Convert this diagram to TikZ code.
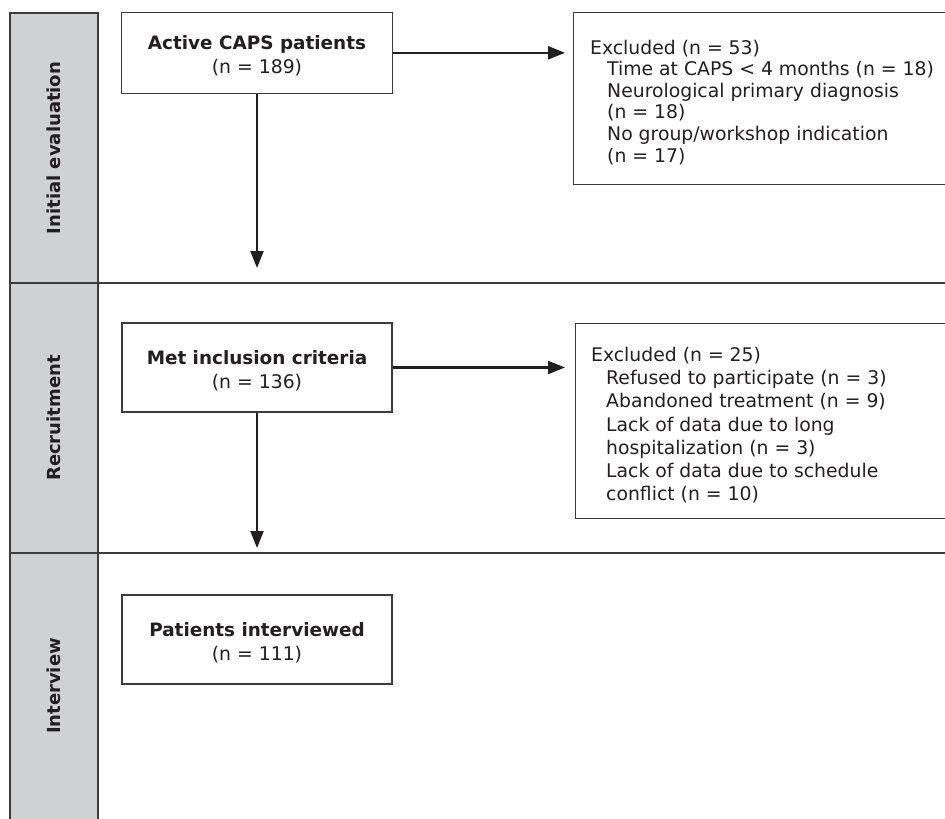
\documentclass[tikz,border=0pt]{standalone}
\usepackage{fontspec}
\setmainfont{DejaVu Sans}
\usetikzlibrary{arrows.meta,calc}
\definecolor{lanegray}{RGB}{208,209,211}
\definecolor{rulegray}{RGB}{60,60,60}
\definecolor{inkdark}{RGB}{35,31,32}

\begin{document}
\begin{tikzpicture}[x=1pt,y=-1pt,
    box/.style={draw=rulegray, line width=1.1pt, fill=white, align=center, inner sep=0pt, text=inkdark, font=\fontsize{18.8}{24}\selectfont},
    exclframe/.style={draw=rulegray, line width=1.1pt, anchor=north west, minimum width=420pt, inner sep=0pt},
    excltext/.style={anchor=base west, align=left, inner sep=0pt, text=inkdark},
    lane/.style={rotate=90, inner sep=0pt, text=inkdark, font=\bfseries\fontsize{18}{22}\selectfont},
    flow/.style={draw=inkdark, line width=2.2pt, -{Triangle[length=17pt,width=13pt]}}]
    \useasboundingbox (0,0) rectangle (945,819);
    \draw [draw=rulegray, line width=1.1pt, fill=lanegray] (10,13) rectangle (98,830);
    \draw [draw=rulegray, line width=1.1pt] (10,283) -- (960,283);
    \draw [draw=rulegray, line width=1.1pt] (10,553) -- (960,553);
    \node [lane] (laneinit) at (54,148) {Initial evaluation};
    \node [lane] (lanerec) at (54,418) {Recruitment};
    \node [lane] (laneint) at (54,686) {Interview};
    \node [box, minimum width=271pt, minimum height=81pt] (active) at (257,52.8) {\rule{0pt}{20pt}{\bfseries\fontsize{18.4}{24}\selectfont Active CAPS patients}\\(n = 189)};
    \node [box, minimum width=270pt, minimum height=89pt] (met) at (257,367.5) {\rule{0pt}{20pt}{\bfseries\fontsize{18.4}{24}\selectfont Met inclusion criteria}\\(n = 136)};
    \node [box, minimum width=270pt, minimum height=89pt] (interviewed) at (257,639.5) {\rule{0pt}{20pt}{\bfseries\fontsize{18.4}{24}\selectfont Patients interviewed}\\(n = 111)};
    \node [exclframe, minimum height=172pt] (excl1) at (573,12) {};
    \node [exclframe, minimum height=195pt] (excl2) at (575,323) {};
    \node [excltext, font=\fontsize{18.8}{21.6}\selectfont] (excl1text) at (590,162) {Excluded (n = 53)\\
        \hspace*{17pt}Time at CAPS < 4 months (n = 18)\\
        \hspace*{17pt}Neurological primary diagnosis\\
        \hspace*{17pt}(n = 18)\\
        \hspace*{17pt}No group/workshop indication\\
        \hspace*{17pt}(n = 17)};
    \node [excltext, font=\fontsize{18.8}{23.2}\selectfont] (excl2text) at (591,500.7) {Excluded (n = 25)\\
        \hspace*{15pt}Refused to participate (n = 3)\\
        \hspace*{15pt}Abandoned treatment (n = 9)\\
        \hspace*{15pt}Lack of data due to long\\
        \hspace*{15pt}hospitalization (n = 3)\\
        \hspace*{15pt}Lack of data due to schedule\\
        \hspace*{15pt}conflict (n = 10)};
    \coordinate (evalend) at (257,268);
    \coordinate (recend) at (257,548);
    \draw [flow] (active) -- (evalend);
    \draw [flow] (met) -- (recend);
    \draw [flow] (active.east) -- ($(active.east -| excl1.west)+(-8,0)$);
    \draw [flow] (met.east) -- ($(met.east -| excl2.west)+(-10,0)$);
\end{tikzpicture}
\end{document}
